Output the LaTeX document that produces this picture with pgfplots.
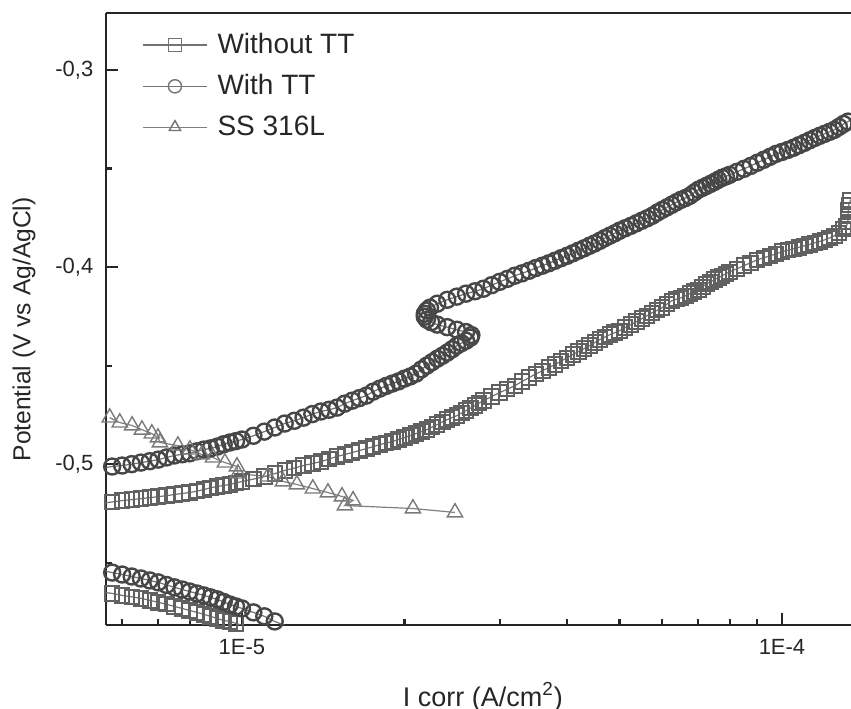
\documentclass[border=0pt]{standalone}
\usepackage{fontspec}
\setmainfont{Liberation Sans}
\usepackage{pgfplots}
\pgfplotsset{compat=1.18}
\usepackage{pgfplotstable}

% anodic branches (I in A/cm^2, E in V)
\pgfplotstableread{
I V
5.5e-6 -0.5198
5.75e-6 -0.5192
6.0e-6 -0.5185
6.25e-6 -0.5180
6.5e-6 -0.5175
6.75e-6 -0.5170
7.0e-6 -0.5165
7.25e-6 -0.5160
7.5e-6 -0.5154
7.75e-6 -0.5149
8.0e-6 -0.5144
8.25e-6 -0.5137
8.5e-6 -0.5129
8.75e-6 -0.5120
9.0e-6 -0.5113
9.25e-6 -0.5108
9.5e-6 -0.5103
9.75e-6 -0.5095
10e-6 -0.5088
10.5e-6 -0.5076
11e-6 -0.5063
11.5e-6 -0.5048
12e-6 -0.5032
12.5e-6 -0.5020
13e-6 -0.5007
13.5e-6 -0.4997
14e-6 -0.4987
14.5e-6 -0.4974
15e-6 -0.4961
15.5e-6 -0.4951
16e-6 -0.4941
16.5e-6 -0.4931
17e-6 -0.4921
17.5e-6 -0.4911
18e-6 -0.4901
18.5e-6 -0.4893
19e-6 -0.4885
19.5e-6 -0.4875
20e-6 -0.4865
20.5e-6 -0.4855
21e-6 -0.4845
21.5e-6 -0.4835
22e-6 -0.4825
22.5e-6 -0.4812
23e-6 -0.4799
23.5e-6 -0.4786
24e-6 -0.4774
24.5e-6 -0.4764
25e-6 -0.4754
25.5e-6 -0.4741
26e-6 -0.4728
26.5e-6 -0.4716
27e-6 -0.4703
27.5e-6 -0.4690
28e-6 -0.4678
29e-6 -0.4657
30e-6 -0.4637
31e-6 -0.4620
32e-6 -0.4602
33e-6 -0.4581
34e-6 -0.4561
35e-6 -0.4543
36e-6 -0.4526
37e-6 -0.4510
38e-6 -0.4495
39e-6 -0.4477
40e-6 -0.4460
41e-6 -0.4444
42e-6 -0.4429
43e-6 -0.4414
44e-6 -0.4399
45e-6 -0.4383
46e-6 -0.4368
47e-6 -0.4355
48e-6 -0.4343
49e-6 -0.4333
50e-6 -0.4323
51.25e-6 -0.4307
52.5e-6 -0.4292
53.75e-6 -0.4277
55e-6 -0.4262
56.25e-6 -0.4247
57.5e-6 -0.4232
58.75e-6 -0.4219
60e-6 -0.4206
61.25e-6 -0.4188
62.5e-6 -0.4171
63.75e-6 -0.4163
65e-6 -0.4156
66.25e-6 -0.4146
67.5e-6 -0.4135
68.75e-6 -0.4125
70e-6 -0.4115
71.25e-6 -0.4100
72.5e-6 -0.4085
73.75e-6 -0.4075
75e-6 -0.4064
76.25e-6 -0.4054
77.5e-6 -0.4044
78.75e-6 -0.4034
80e-6 -0.4024
82.5e-6 -0.4009
85e-6 -0.3993
87.5e-6 -0.3978
90e-6 -0.3963
92.5e-6 -0.3953
95e-6 -0.3943
97.5e-6 -0.3933
100e-6 -0.3922
102.5e-6 -0.3915
105e-6 -0.3907
107.5e-6 -0.3900
110e-6 -0.3892
112.5e-6 -0.3885
115e-6 -0.3877
117.5e-6 -0.3870
120e-6 -0.3862
122.5e-6 -0.3852
125e-6 -0.3841
127.5e-6 -0.3826
130e-6 -0.3808
131.5e-6 -0.3795
132.5e-6 -0.3770
132.5e-6 -0.3740
132.7e-6 -0.3710
133e-6 -0.3684
134e-6 -0.3660
136e-6 -0.3650
}\withoutTT

\pgfplotstableread{
I V
5.5e-6 -0.5020
5.75e-6 -0.5012
6.0e-6 -0.5007
6.25e-6 -0.5000
6.5e-6 -0.4992
6.75e-6 -0.4985
7.0e-6 -0.4977
7.25e-6 -0.4966
7.5e-6 -0.4956
7.75e-6 -0.4950
8.0e-6 -0.4945
8.25e-6 -0.4935
8.5e-6 -0.4926
8.75e-6 -0.4920
9.0e-6 -0.4911
9.25e-6 -0.4899
9.5e-6 -0.4890
9.75e-6 -0.4883
10e-6 -0.4875
10.5e-6 -0.4856
11e-6 -0.4835
11.5e-6 -0.4814
12e-6 -0.4794
12.5e-6 -0.4780
13e-6 -0.4764
13.5e-6 -0.4746
14e-6 -0.4733
14.5e-6 -0.4724
15e-6 -0.4713
15.5e-6 -0.4693
16e-6 -0.4678
16.5e-6 -0.4665
17e-6 -0.4652
17.5e-6 -0.4632
18e-6 -0.4617
18.5e-6 -0.4603
19e-6 -0.4591
19.5e-6 -0.4580
20e-6 -0.4566
20.5e-6 -0.4555
21e-6 -0.4541
21.5e-6 -0.4519
22e-6 -0.4500
22.5e-6 -0.4482
23e-6 -0.4465
23.5e-6 -0.4450
24e-6 -0.4434
24.5e-6 -0.4417
25e-6 -0.4399
25.5e-6 -0.4386
26e-6 -0.4374
26.5e-6 -0.4358
26.6e-6 -0.4345
26.0e-6 -0.4330
25e-6 -0.4318
24e-6 -0.4305
23e-6 -0.4292
22.4e-6 -0.4280
22e-6 -0.4267
21.8e-6 -0.4252
21.8e-6 -0.4237
22.0e-6 -0.4220
22.3e-6 -0.4206
23.0e-6 -0.4186
24e-6 -0.4166
25e-6 -0.4150
26e-6 -0.4135
27e-6 -0.4123
28e-6 -0.4110
29e-6 -0.4092
30e-6 -0.4075
31e-6 -0.4060
32e-6 -0.4044
33e-6 -0.4032
34e-6 -0.4019
35e-6 -0.4005
36e-6 -0.3993
37e-6 -0.3981
38e-6 -0.3968
39e-6 -0.3955
40e-6 -0.3943
41e-6 -0.3930
42e-6 -0.3917
43e-6 -0.3905
44e-6 -0.3892
45e-6 -0.3880
46e-6 -0.3867
47e-6 -0.3853
48e-6 -0.3841
49e-6 -0.3829
50e-6 -0.3816
51.25e-6 -0.3803
52.5e-6 -0.3791
53.75e-6 -0.3778
55e-6 -0.3765
56.25e-6 -0.3753
57.5e-6 -0.3740
58.75e-6 -0.3724
60e-6 -0.3710
61.25e-6 -0.3697
62.5e-6 -0.3684
63.75e-6 -0.3671
65e-6 -0.3659
66.25e-6 -0.3650
67.5e-6 -0.3639
68.75e-6 -0.3623
70e-6 -0.3608
71.25e-6 -0.3598
72.5e-6 -0.3588
73.75e-6 -0.3578
75e-6 -0.3568
76.25e-6 -0.3557
77.5e-6 -0.3547
78.75e-6 -0.3540
80e-6 -0.3532
82.5e-6 -0.3517
85e-6 -0.3502
87.5e-6 -0.3487
90e-6 -0.3471
92.5e-6 -0.3456
95e-6 -0.3441
97.5e-6 -0.3426
100e-6 -0.3416
102.5e-6 -0.3406
105e-6 -0.3395
107.5e-6 -0.3382
110e-6 -0.3370
112.5e-6 -0.3357
115e-6 -0.3345
117.5e-6 -0.3334
120e-6 -0.3324
122.5e-6 -0.3314
125e-6 -0.3304
127.5e-6 -0.3289
130e-6 -0.3274
132.5e-6 -0.3262
135e-6 -0.3250
138e-6 -0.3237
}\withTT

% cathodic branches
\pgfplotstableread{
I V
5.5e-6 -0.5648
5.75e-6 -0.5656
6.0e-6 -0.5666
6.25e-6 -0.5673
6.5e-6 -0.5681
6.75e-6 -0.5691
7.0e-6 -0.5701
7.25e-6 -0.5711
7.5e-6 -0.5722
7.75e-6 -0.5732
8.0e-6 -0.5742
8.25e-6 -0.5752
8.5e-6 -0.5762
8.75e-6 -0.5772
9.0e-6 -0.5783
9.25e-6 -0.5793
9.5e-6 -0.5798
9.75e-6 -0.5808
10e-6 -0.5818
10.5e-6 -0.5838
11e-6 -0.5860
}\withoutTTc

\pgfplotstableread{
I V
5.5e-6 -0.5540
5.75e-6 -0.5550
6.0e-6 -0.5560
6.25e-6 -0.5570
6.5e-6 -0.5580
6.75e-6 -0.5590
7.0e-6 -0.5600
7.25e-6 -0.5613
7.5e-6 -0.5625
7.75e-6 -0.5636
8.0e-6 -0.5646
8.25e-6 -0.5656
8.5e-6 -0.5666
8.75e-6 -0.5676
9.0e-6 -0.5686
9.25e-6 -0.5699
9.5e-6 -0.5712
9.75e-6 -0.5722
10e-6 -0.5732
10.5e-6 -0.5752
11e-6 -0.5772
11.5e-6 -0.5798
12e-6 -0.5818
12.5e-6 -0.5838
13e-6 -0.5860
}\withTTc

\pgfplotstableread{
I V
5.69e-6 -0.4764
5.94e-6 -0.4789
6.26e-6 -0.4804
6.53e-6 -0.4825
6.81e-6 -0.4845
6.99e-6 -0.4865
7.05e-6 -0.4890
7.61e-6 -0.4906
8.01e-6 -0.4926
8.43e-6 -0.4951
8.84e-6 -0.4967
9.30e-6 -0.4992
9.79e-6 -0.5012
9.83e-6 -0.5048
11.17e-6 -0.5063
11.91e-6 -0.5088
12.64e-6 -0.5103
13.53e-6 -0.5124
14.43e-6 -0.5144
15.32e-6 -0.5164
16.06e-6 -0.5184
15.51e-6 -0.5210
20.73e-6 -0.5225
24.80e-6 -0.5245
}\ssteel

\begin{document}
\begin{tikzpicture}
\begin{axis}[
  scale only axis,
  width=372.5pt, height=306pt,
  xmode=log,
  xmin=5.6e-6, xmax=1.342e-4,
  ymin=-0.5816, ymax=-0.2711,
  axis x line*=box, axis y line*=left,
  x axis line style={-}, y axis line style={-},
  axis line style={line width=1.2pt, black!85},
  xtick={1e-5,1e-4}, xticklabels={1E-5,1E-4},
  minor xtick={6e-6,7e-6,8e-6,9e-6,2e-5,3e-5,4e-5,5e-5,6e-5,7e-5,8e-5,9e-5},
  ytick={-0.5,-0.4,-0.3}, minor ytick={-0.55,-0.45,-0.35},
  xtick pos=left, ytick pos=left,
  tick align=inside,
  major tick length=6pt, minor tick length=3pt,
  every tick/.style={line width=1.1pt, black!85},
  /pgf/number format/assume math mode=true,
  yticklabel style={/pgf/number format/use comma, /pgf/number format/fixed,
    /pgf/number format/precision=1, xshift=-2.8pt},
  ticklabel style={font=\fontsize{11}{13}\selectfont, text=black!85},
  xticklabel style={yshift=-3.8pt},
  xlabel={I corr (A/cm\textsuperscript{2})},
  ylabel={Potential (V vs Ag/AgCl)},
  xlabel style={font=\fontsize{13.5}{16}\selectfont, text=black!85,
    at={(axis description cs:0.506,-0.118)}, anchor=center},
  ylabel style={font=\fontsize{12.3}{15}\selectfont, text=black!85,
    at={(axis description cs:-0.110,0.483)}, anchor=center},
  legend style={draw=none, fill=none, at={(0,1)}, anchor=north west,
    xshift=15pt, yshift=-6pt, font=\fontsize{14}{16}\selectfont,
    row sep=5pt, text=black!85},
  legend cell align=left,
  legend image post style={mark size=3.3pt, mark options={line width=0.7pt, draw=black!55}},
  legend image code/.code={\draw[mark repeat=2,mark phase=2,#1]
    plot coordinates {(0pt,0pt) (16pt,0pt) (32pt,0pt)};
    \path (35pt,0pt);},
]
\coordinate (bl) at (rel axis cs:0,0);
\coordinate (tr) at (rel axis cs:1,1);
\addplot[black!55, line width=0.6pt, mark=square, mark size=3.6pt,
  mark options={fill=white, draw=black!62, line width=1pt}]
  table[x=I, y=V] {\withoutTT};
\addlegendentry{Without TT}
\addplot[black!55, line width=0.6pt, mark=o, mark size=4pt,
  mark options={fill=white, draw=black!72, line width=1.2pt}]
  table[x=I, y=V] {\withTT};
\addlegendentry{With TT}
\addplot[black!55, line width=0.6pt, mark=square, mark size=3.6pt, forget plot,
  mark options={fill=white, draw=black!62, line width=1pt}]
  table[x=I, y=V] {\withoutTTc};
\addplot[black!55, line width=0.6pt, mark=o, mark size=4pt, forget plot,
  mark options={fill=white, draw=black!72, line width=1.2pt}]
  table[x=I, y=V] {\withTTc};
\addplot[black!50, line width=0.6pt, mark=triangle, mark size=4.4pt,
  mark options={fill=white, draw=black!52, line width=0.7pt}]
  table[x=I, y=V] {\ssteel};
\addlegendentry{SS 316L}
\end{axis}
\pgfresetboundingbox
\path ([xshift=-53pt,yshift=-42pt]bl) rectangle ([yshift=6.5pt]tr);
\end{tikzpicture}
\end{document}
